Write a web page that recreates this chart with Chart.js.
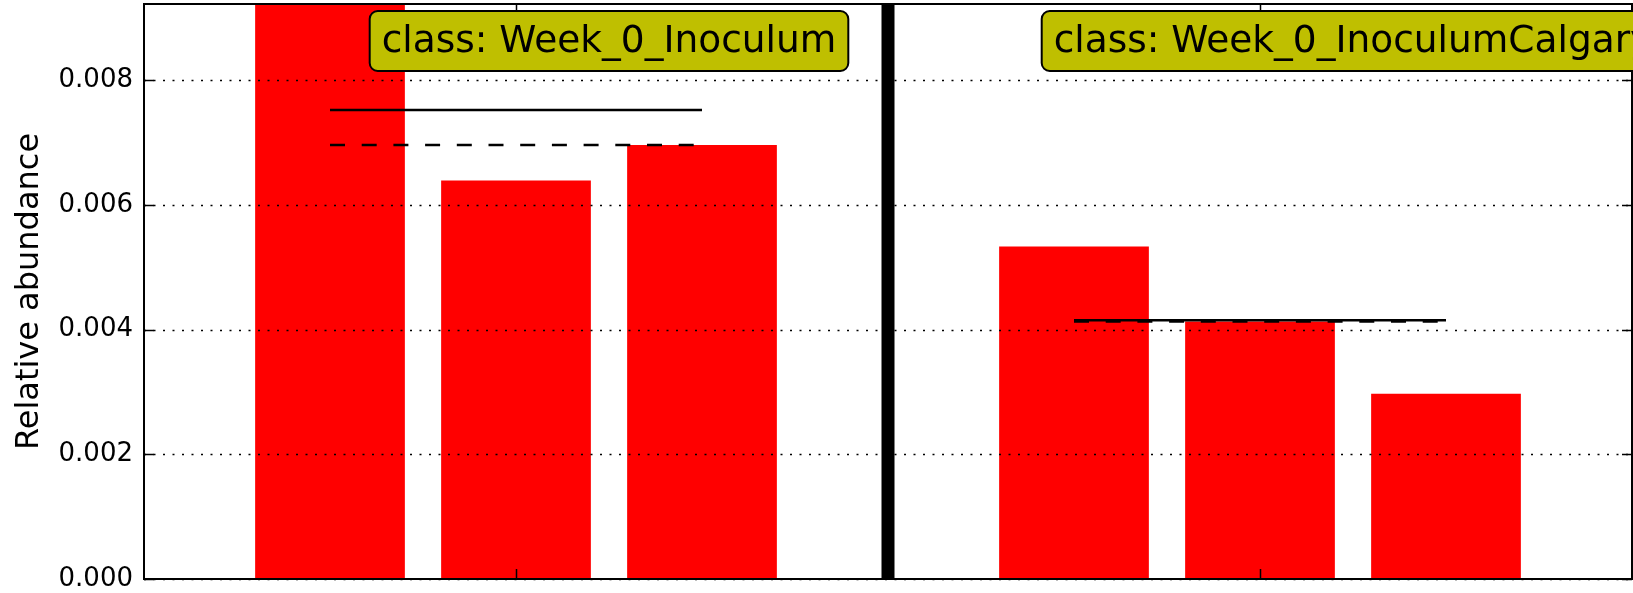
<!DOCTYPE html>
<html>
<head>
<meta charset="utf-8">
<script src="https://cdn.jsdelivr.net/npm/chart.js@4/dist/chart.umd.min.js"></script>
<style>
  html, body { margin: 0; padding: 0; background: #fff; }
  #wrap { width: 1633px; height: 593px; }
</style>
</head>
<body>
<div id="wrap"><canvas id="chart"></canvas></div>
<script>
"use strict";

// x slots: empty ones are the panel edges and the separator
const samples = ['', 'Week_0_Inoculum_1', 'Week_0_Inoculum_2', 'Week_0_Inoculum_3', '',
  'Week_0_InoculumCalgary_1', 'Week_0_InoculumCalgary_2', 'Week_0_InoculumCalgary_3', ''];
const abundance = [null, 0.00922, 0.00639, 0.00696, null, 0.00533, 0.00413, 0.00297, null];

// one entry per class panel
const classNames = ['Week_0_Inoculum', 'Week_0_InoculumCalgary'];
const classSlots = [[1, 2, 3], [5, 6, 7]];
const classMean = [0.00752, 0.00415];
const classMedian = [0.00696, 0.00413];

const yTicks = [0, 0.002, 0.004, 0.006, 0.008];
const yMax = 0.00922;
const xTickSlots = [2, 6];
const separatorSlot = 4;

//Utils
function classLine(values) {
  const out = samples.map(() => null);
  classSlots.forEach((slots, i) => slots.forEach(s => { out[s] = values[i]; }));
  return out;
}

function roundRect(ctx, x, y, w, h, r) {
  ctx.beginPath();
  ctx.moveTo(x + r, y);
  ctx.arcTo(x + w, y, x + w, y + h, r);
  ctx.arcTo(x + w, y + h, x, y + h, r);
  ctx.arcTo(x, y + h, x, y, r);
  ctx.arcTo(x, y, x + w, y, r);
  ctx.closePath();
}

// grid over the bars, frame, inward ticks, separator and class labels
const panelDecor = {
  id: 'panelDecor',
  afterDatasetDraw(chart, args) {
    if (args.meta.type !== 'bar') return;
    const {ctx, chartArea: a, scales: {y}} = chart;
    ctx.save();
    ctx.strokeStyle = '#000';
    ctx.lineWidth = 1.5;
    ctx.setLineDash([2, 7.5]);
    yTicks.forEach(v => {
      const py = Math.round(y.getPixelForValue(v)) + 0.5;
      ctx.beginPath();
      ctx.moveTo(a.left, py);
      ctx.lineTo(a.right, py);
      ctx.stroke();
    });
    ctx.restore();
  },
  afterDraw(chart) {
    const {ctx, chartArea: a, scales: {x, y}} = chart;
    ctx.save();
    ctx.strokeStyle = '#000';

    // ticks pointing inward
    ctx.lineWidth = 1.5;
    yTicks.forEach(v => {
      const py = Math.round(y.getPixelForValue(v)) + 0.5;
      ctx.beginPath();
      ctx.moveTo(a.left, py); ctx.lineTo(a.left + 10, py);
      ctx.moveTo(a.right, py); ctx.lineTo(a.right - 10, py);
      ctx.stroke();
    });
    xTickSlots.forEach(s => {
      const px = Math.round(x.getPixelForValue(s)) + 0.5;
      ctx.beginPath();
      ctx.moveTo(px, a.bottom); ctx.lineTo(px, a.bottom - 10);
      ctx.moveTo(px, a.top); ctx.lineTo(px, a.top + 10);
      ctx.stroke();
    });

    // separator between the two classes
    const sx = x.getPixelForValue(separatorSlot);
    ctx.lineWidth = 13;
    ctx.beginPath();
    ctx.moveTo(sx, a.top); ctx.lineTo(sx, a.bottom);
    ctx.stroke();

    // frame
    ctx.lineWidth = 2;
    ctx.strokeRect(a.left, a.top, a.right - a.left, a.bottom - a.top);

    // class labels
    ctx.font = '37.5px "DejaVu Sans"';
    ctx.textAlign = 'center';
    ctx.textBaseline = 'alphabetic';
    classNames.forEach((name, i) => {
      const text = 'class: ' + name;
      const w = ctx.measureText(text).width;
      const cx = x.getPixelForValue(classSlots[i][1] + 0.5);
      const top = a.top + 7, h = 60, pad = 12;
      roundRect(ctx, cx - w / 2 - pad, top, w + 2 * pad, h, 8);
      ctx.fillStyle = '#bfbf00';
      ctx.fill();
      ctx.lineWidth = 2;
      ctx.stroke();
      ctx.fillStyle = '#000';
      ctx.fillText(text, cx, top + 41);
    });
    ctx.restore();
  }
};

function init() {
  const ctx = document.getElementById('chart').getContext('2d');
  new Chart(ctx, {
    type: 'bar',
    data: {
      labels: samples,
      datasets: [
        {
          type: 'line',
          label: 'median',
          data: classLine(classMedian),
          borderColor: '#000',
          borderWidth: 2.5,
          borderDash: [15, 16.7],
          pointRadius: 0,
          order: 0
        },
        {
          type: 'line',
          label: 'mean',
          data: classLine(classMean),
          borderColor: '#000',
          borderWidth: 2.5,
          pointRadius: 0,
          order: 1
        },
        {
          label: 'Relative abundance',
          data: abundance,
          backgroundColor: '#ff0000',
          borderWidth: 0,
          categoryPercentage: 1,
          barPercentage: 0.805,
          order: 2
        }
      ]
    },
    options: {
      responsive: true,
      maintainAspectRatio: false,
      animation: false,
      layout: { padding: { top: 4, right: 1, bottom: 0, left: 0 } },
      plugins: { legend: { display: false }, tooltip: { enabled: false } },
      scales: {
        x: {
          type: 'category',
          offset: false,
          grid: { display: false, offset: false },
          border: { display: false },
          ticks: { display: false },
          afterFit(scale) { scale.height = 14; }
        },
        y: {
          min: 0,
          max: yMax,
          grid: { display: false, drawTicks: false },
          border: { display: false },
          afterBuildTicks(scale) { scale.ticks = yTicks.map(v => ({ value: v })); },
          afterFit(scale) {
            scale.width = 144;
            scale.paddingTop = 0;
            scale.paddingBottom = 0;
          },
          ticks: {
            color: '#000',
            padding: 11,
            font: { family: 'DejaVu Sans', size: 26, lineHeight: 1 },
            callback: v => Number(v).toFixed(3)
          },
          title: {
            display: true,
            text: 'Relative abundance',
            color: '#000',
            padding: { top: 10, bottom: 0 },
            font: { family: 'DejaVu Sans', size: 32 }
          }
        }
      }
    },
    plugins: [panelDecor]
  });
}

init();
</script>
</body>
</html>
